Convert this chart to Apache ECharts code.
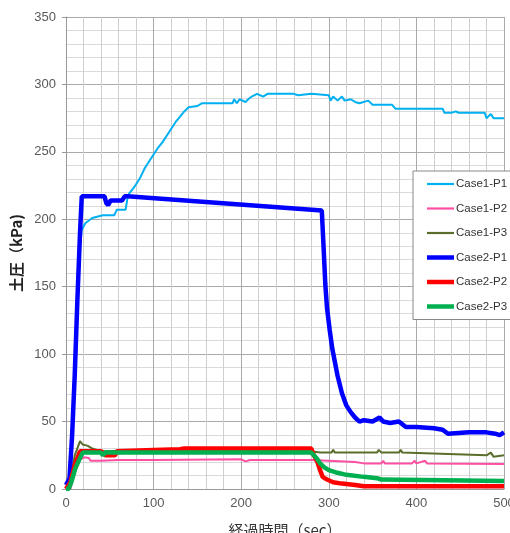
<!DOCTYPE html>
<html>
<head>
<meta charset="utf-8">
<script src="https://cdn.jsdelivr.net/npm/echarts@6/dist/echarts.min.js"></script>
<style>html,body{margin:0;padding:0;background:#fff;}#c{width:510px;height:533px;}</style>
</head>
<body>
<div id="c"></div>
<script>
const seriesNames = ['Case1-P1','Case1-P2','Case1-P3','Case2-P1','Case2-P2','Case2-P3'];
const xTicks = [0,100,200,300,400,500];
const yTicks = [0,50,100,150,200,250,300,350];

const case1P1 = [[0,0],[4,5],[7,40],[10,90],[13,140],[16,180],[18,192],[22,197],[30,201],[42,203],[55,203],[58,207],[68,207],[70,215],[72,219],[78,224],[84,230],[90,238],[95,243],[100,248],[105,253],[110,257],[115,262],[120,267],[125,272],[130,276],[135,280],[140,283],[150,284],[155,286],[190,286],[192,289],[195,286],[198,289],[205,287],[208,289],[212,291],[218,293],[225,291],[230,293],[260,293],[265,292],[280,293],[300,292],[302,288],[305,291],[310,288],[315,291],[318,288],[325,289],[330,287],[335,286],[345,288],[350,285],[360,285],[372,285],[376,282],[430,282],[432,279],[440,279],[445,280],[448,279],[478,279],[480,275],[485,278],[488,275],[500,275]];
const case1P2 = [[0,0],[5,0],[10,12],[16,22],[21,23.5],[26,23],[28,21],[40,21],[60,21.5],[100,21.5],[102,22],[200,22],[205,20.5],[210,21.5],[250,21.5],[280,21.5],[300,21],[330,20],[340,19],[360,19],[362,21],[364,19],[395,19],[398,21],[400,19],[410,21],[412,19],[500,18.5]];
const case1P3 = [[0,0],[4,2],[10,25],[16,35.5],[19,33],[25,32],[30,30],[40,28],[80,28.5],[280,28],[290,27],[303,27],[305,29],[307,27],[355,27],[357,29],[360,27],[380,27],[382,29],[384,27],[480,25],[485,27],[488,24],[500,25]];
const case2P1 = [[0,3],[4,8],[7,40],[10,85],[13,140],[16,190],[18,217],[44,217],[46,212],[48,210.5],[51,214],[64,214],[67,217],[70,217],[292,206.5],[294,180],[296,152],[298,134],[301,118],[304,104],[307,94],[310,84],[315,71],[320,62],[325,57],[330,53],[335,50],[340,51],[350,50],[358,53],[362,50],[370,49],[380,50],[388,46],[400,46],[420,45],[430,44],[436,41],[460,42],[480,42],[490,41],[495,40],[500,42]];
const case2P2 = [[0,0],[2,0],[5,5],[10,18],[16,28],[40,28],[45,25],[56,25],[58,28],[100,29],[130,29.5],[135,30],[280,30],[283,25],[287,20],[290,14],[293,9],[298,7],[305,5],[315,4],[330,3],[340,2],[500,2]];
const case2P3 = [[0,0],[3,0],[6,5],[11,16],[19,27],[40,27],[42,25],[45,27],[280,27],[283,25],[287,22],[290,19],[295,16],[300,14],[310,12],[320,10.5],[340,9],[355,8],[360,7],[500,6]];

const colors = ['#00B0F0','#FF4FA3','#5A6E2C','#0000FF','#FF0000','#00B050'];
const widths = [2,2,2,4.5,4.5,4.5];
const datas = [case1P1,case1P2,case1P3,case2P1,case2P2,case2P3];
const thinIcon = 'path://M0,0H27V2.2H0Z';
const thickIcon = 'path://M0,0H27V4.5H0Z';

const chart = echarts.init(document.getElementById('c'));
chart.setOption({
  backgroundColor:'#fff',
  animation:false,
  grid:{left:66,top:17,right:6,bottom:44, outerBoundsMode:'none', containLabel:false},
  legend:{
    orient:'vertical', left:413, top:171,
    padding:[7,40,7,14], itemGap:12.5, itemWidth:27, itemHeight:14,
    backgroundColor:'#fff', borderColor:'#888', borderWidth:1,
    textStyle:{fontSize:11.5, color:'#333', fontFamily:'Liberation Sans', padding:[0,0,0,-3]},
    data:seriesNames.map((n,i)=>({name:n, icon: widths[i] > 3 ? thickIcon : thinIcon}))
  },
  xAxis:{
    type:'value', min:0, max:500, interval:100,
    name:'経過時間（sec）', nameLocation:'middle', nameGap:34,
    nameTextStyle:{fontSize:15, color:'#333', fontFamily:'Noto Sans CJK JP'},
    axisLine:{show:true, lineStyle:{color:'#999'}},
    axisTick:{show:false},
    axisLabel:{fontSize:13, color:'#595959', fontFamily:'Liberation Sans', margin:8},
    splitLine:{show:true, lineStyle:{color:'#aaa', width:1}},
    minorTick:{show:false, splitNumber:5},
    minorSplitLine:{show:true, lineStyle:{color:'#cfcfcf', width:1}}
  },
  yAxis:{
    type:'value', min:0, max:350, interval:50,
    name:'土圧（kPa)', nameLocation:'middle', nameGap:37, nameRotate:90,
    nameTextStyle:{fontSize:15, color:'#222', fontWeight:'bold', fontFamily:'Noto Sans CJK JP'},
    axisLine:{show:true, lineStyle:{color:'#999'}},
    axisTick:{show:true, length:4, lineStyle:{color:'#999'}},
    axisLabel:{fontSize:13, color:'#595959', fontFamily:'Liberation Sans', margin:10},
    splitLine:{show:true, lineStyle:{color:'#aaa', width:1}},
    minorTick:{show:false, splitNumber:5},
    minorSplitLine:{show:true, lineStyle:{color:'#dadada', width:1}}
  },
  series: seriesNames.map((n,i)=>({
    name:n, type:'line', data:datas[i], showSymbol:false, symbol:'none',
    color:colors[i],
    lineStyle:{color:colors[i], width:widths[i]},
    clip:true
  }))
});
</script>
</body>
</html>
